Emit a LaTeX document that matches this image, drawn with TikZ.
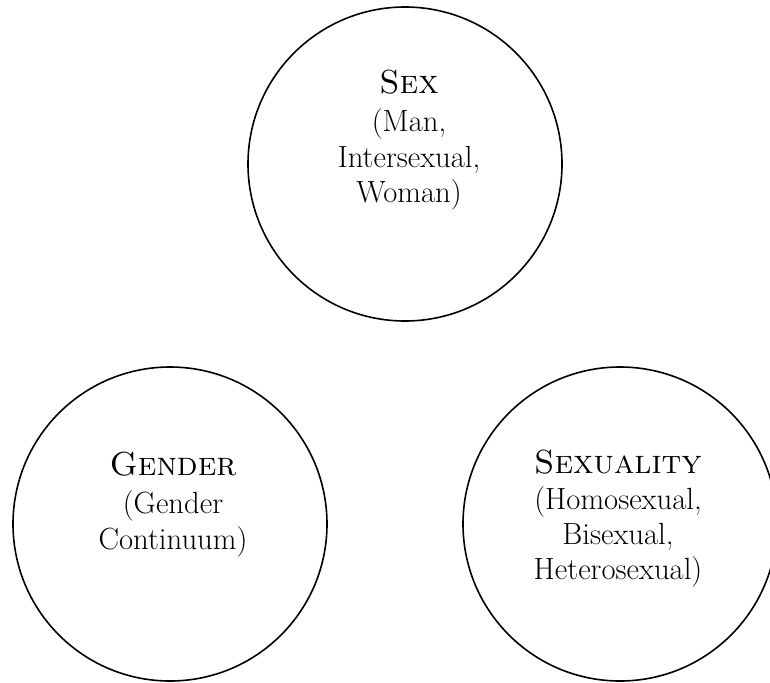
\documentclass[tikz,border=0pt]{standalone}
\usepackage{fontspec}
\usepackage{tikz}

\begin{document}
\begin{tikzpicture}[x=0.75pt,y=0.75pt,yscale=-1,xscale=1,
    ring/.style={line width=1.2pt},
    label/.style={anchor=north,inner sep=0pt,align=center,font=\fontsize{23}{26.5}\selectfont}]
    \useasboundingbox (0,0) rectangle (770,682); %set diagram size 770 x 682

    %Shape: Circle [sex]
    \draw [ring] (405,164) circle (157);
    %Shape: Circle [gender]
    \draw [ring] (170,524) circle (157);
    %Shape: Circle [sexuality]
    \draw [ring] (620,524) circle (157);

    % Text Node
    \node [label] (sex) at (409,70) {{\fontsize{25}{30}\selectfont\textsc{Sex}}\\[2pt] (Man,\\ Intersexual,\\ Woman)};
    % Text Node
    \node [label] (gender) at (173,452) {{\fontsize{25}{30}\selectfont\textsc{Gender}}\\[2pt] (Gender\\ Continuum)};
    % Text Node
    \node [label] (sexuality) at (618,450) {{\fontsize{25}{30}\selectfont\textsc{Sexuality}}\\[0pt] (Homosexual,\\ Bisexual,\\ Heterosexual)};
\end{tikzpicture}
\end{document}
